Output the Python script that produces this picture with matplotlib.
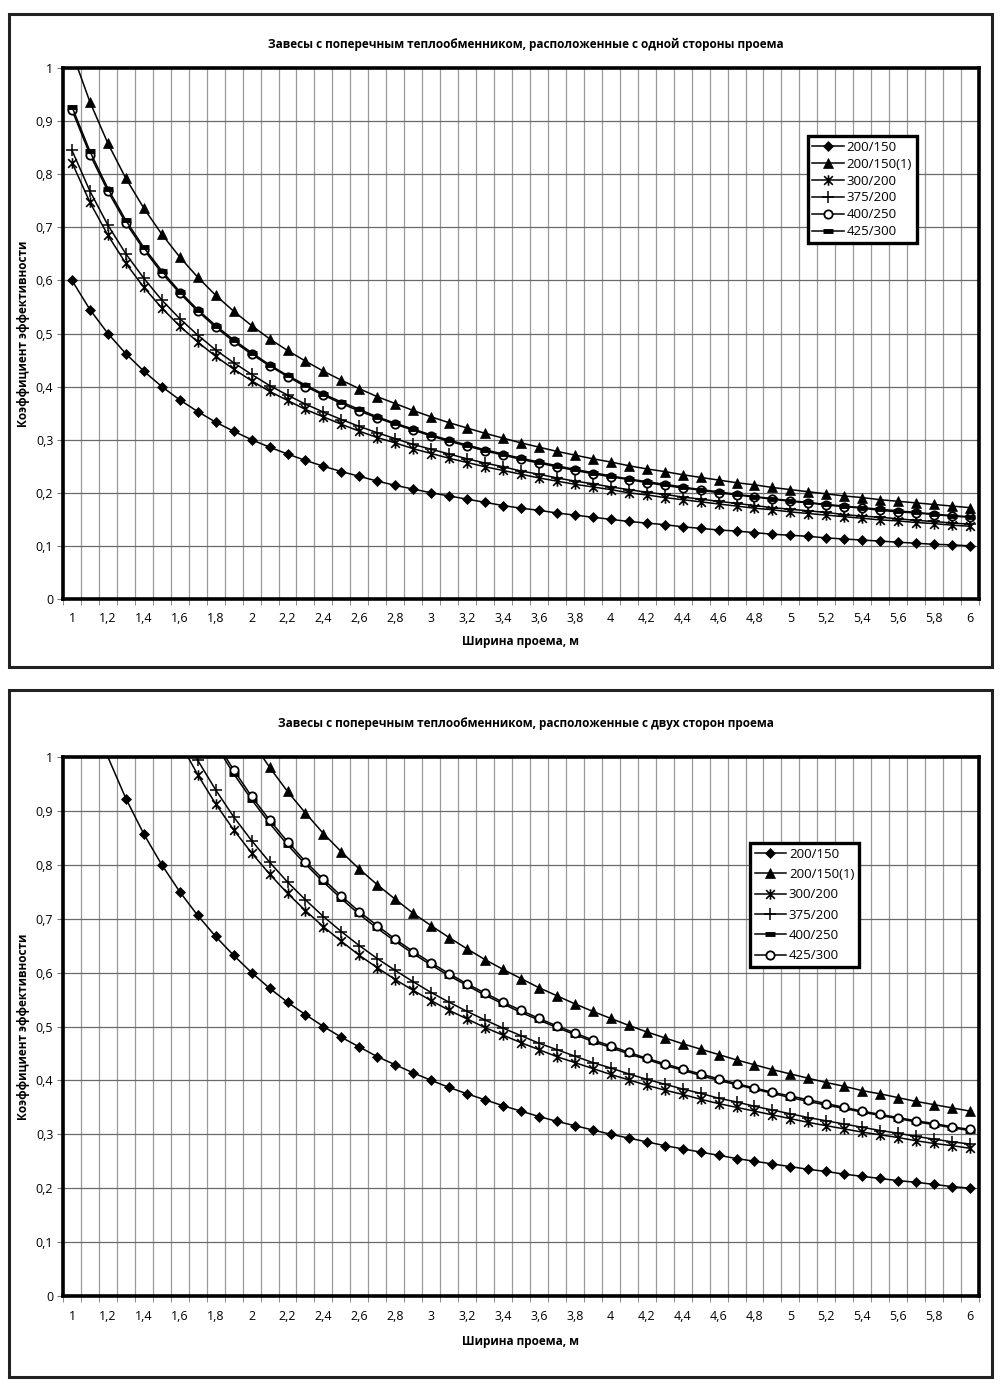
import numpy as np
import matplotlib
matplotlib.use("Agg")
import matplotlib.pyplot as plt
from matplotlib.path import Path
from matplotlib.patches import Rectangle

plt.rcParams["font.family"] = ["Open Sans", "DejaVu Sans"]

# --- dades ---
x_vals = [1.0, 1.1, 1.2, 1.3, 1.4, 1.5, 1.6, 1.7, 1.8, 1.9,
          2.0, 2.1, 2.2, 2.3, 2.4, 2.5, 2.6, 2.7, 2.8, 2.9,
          3.0, 3.1, 3.2, 3.3, 3.4, 3.5, 3.6, 3.7, 3.8, 3.9,
          4.0, 4.1, 4.2, 4.3, 4.4, 4.5, 4.6, 4.7, 4.8, 4.9,
          5.0, 5.1, 5.2, 5.3, 5.4, 5.5, 5.6, 5.7, 5.8, 5.9, 6.0]
labels = ["200/150", "200/150(1)", "300/200", "375/200", "400/250", "425/300"]

# one side of the opening
top_200_150 = [0.600, 0.545, 0.500, 0.462, 0.429, 0.400, 0.375, 0.353, 0.333, 0.316,
               0.300, 0.286, 0.273, 0.261, 0.250, 0.240, 0.231, 0.222, 0.214, 0.207,
               0.200, 0.194, 0.188, 0.182, 0.176, 0.171, 0.167, 0.162, 0.158, 0.154,
               0.150, 0.146, 0.143, 0.140, 0.136, 0.133, 0.130, 0.128, 0.125, 0.122,
               0.120, 0.118, 0.115, 0.113, 0.111, 0.109, 0.107, 0.105, 0.103, 0.102, 0.100]
top_200_150_1 = [1.030, 0.936, 0.858, 0.792, 0.736, 0.687, 0.644, 0.606, 0.572, 0.542,
                 0.515, 0.490, 0.468, 0.448, 0.429, 0.412, 0.396, 0.381, 0.368, 0.355,
                 0.343, 0.332, 0.322, 0.312, 0.303, 0.294, 0.286, 0.278, 0.271, 0.264,
                 0.258, 0.251, 0.245, 0.240, 0.234, 0.229, 0.224, 0.219, 0.215, 0.210,
                 0.206, 0.202, 0.198, 0.194, 0.191, 0.187, 0.184, 0.181, 0.178, 0.175, 0.172]
top_300_200 = [0.822, 0.747, 0.685, 0.632, 0.587, 0.548, 0.514, 0.484, 0.457, 0.433,
               0.411, 0.391, 0.374, 0.357, 0.343, 0.329, 0.316, 0.304, 0.294, 0.283,
               0.274, 0.265, 0.257, 0.249, 0.242, 0.235, 0.228, 0.222, 0.216, 0.211,
               0.206, 0.200, 0.196, 0.191, 0.187, 0.183, 0.179, 0.175, 0.171, 0.168,
               0.164, 0.161, 0.158, 0.155, 0.152, 0.149, 0.147, 0.144, 0.142, 0.139, 0.137]
top_375_200 = [0.845, 0.768, 0.704, 0.650, 0.604, 0.563, 0.528, 0.497, 0.469, 0.445,
               0.423, 0.402, 0.384, 0.367, 0.352, 0.338, 0.325, 0.313, 0.302, 0.291,
               0.282, 0.273, 0.264, 0.256, 0.249, 0.241, 0.235, 0.228, 0.222, 0.217,
               0.211, 0.206, 0.201, 0.197, 0.192, 0.188, 0.184, 0.180, 0.176, 0.172,
               0.169, 0.166, 0.163, 0.159, 0.156, 0.154, 0.151, 0.148, 0.146, 0.143, 0.141]
top_400_250 = [0.921, 0.837, 0.768, 0.708, 0.658, 0.614, 0.576, 0.542, 0.512, 0.485,
               0.461, 0.439, 0.419, 0.400, 0.384, 0.368, 0.354, 0.341, 0.329, 0.318,
               0.307, 0.297, 0.288, 0.279, 0.271, 0.263, 0.256, 0.249, 0.242, 0.236,
               0.230, 0.225, 0.219, 0.214, 0.209, 0.205, 0.200, 0.196, 0.192, 0.188,
               0.184, 0.181, 0.177, 0.174, 0.171, 0.167, 0.164, 0.162, 0.159, 0.156, 0.154]
top_425_300 = [0.927, 0.843, 0.773, 0.713, 0.662, 0.618, 0.579, 0.545, 0.515, 0.488,
               0.464, 0.441, 0.421, 0.403, 0.386, 0.371, 0.357, 0.343, 0.331, 0.320,
               0.309, 0.299, 0.290, 0.281, 0.273, 0.265, 0.258, 0.251, 0.244, 0.238,
               0.232, 0.226, 0.221, 0.216, 0.211, 0.206, 0.202, 0.197, 0.193, 0.189,
               0.185, 0.182, 0.178, 0.175, 0.172, 0.169, 0.166, 0.163, 0.160, 0.157, 0.155]

# two sides of the opening
bot_200_150 = [1.200, 1.091, 1.000, 0.923, 0.857, 0.800, 0.750, 0.706, 0.667, 0.632,
               0.600, 0.571, 0.545, 0.522, 0.500, 0.480, 0.462, 0.444, 0.429, 0.414,
               0.400, 0.387, 0.375, 0.364, 0.353, 0.343, 0.333, 0.324, 0.316, 0.308,
               0.300, 0.293, 0.286, 0.279, 0.273, 0.267, 0.261, 0.255, 0.250, 0.245,
               0.240, 0.235, 0.231, 0.226, 0.222, 0.218, 0.214, 0.211, 0.207, 0.203, 0.200]
bot_200_150_1 = [2.060, 1.873, 1.717, 1.585, 1.471, 1.373, 1.288, 1.212, 1.144, 1.084,
                 1.030, 0.981, 0.936, 0.896, 0.858, 0.824, 0.792, 0.763, 0.736, 0.710,
                 0.687, 0.665, 0.644, 0.624, 0.606, 0.589, 0.572, 0.557, 0.542, 0.528,
                 0.515, 0.502, 0.490, 0.479, 0.468, 0.458, 0.448, 0.438, 0.429, 0.420,
                 0.412, 0.404, 0.396, 0.389, 0.381, 0.375, 0.368, 0.361, 0.355, 0.349, 0.343]
bot_300_200 = [1.644, 1.495, 1.370, 1.265, 1.174, 1.096, 1.028, 0.967, 0.913, 0.865,
               0.822, 0.783, 0.747, 0.715, 0.685, 0.658, 0.632, 0.609, 0.587, 0.567,
               0.548, 0.530, 0.514, 0.498, 0.484, 0.470, 0.457, 0.444, 0.433, 0.422,
               0.411, 0.401, 0.391, 0.382, 0.374, 0.365, 0.357, 0.350, 0.343, 0.336,
               0.329, 0.322, 0.316, 0.310, 0.304, 0.299, 0.294, 0.288, 0.283, 0.279, 0.274]
bot_375_200 = [1.690, 1.536, 1.408, 1.300, 1.207, 1.127, 1.056, 0.994, 0.939, 0.889,
               0.845, 0.805, 0.768, 0.735, 0.704, 0.676, 0.650, 0.626, 0.604, 0.583,
               0.563, 0.545, 0.528, 0.512, 0.497, 0.483, 0.469, 0.457, 0.445, 0.433,
               0.423, 0.412, 0.402, 0.393, 0.384, 0.376, 0.367, 0.360, 0.352, 0.345,
               0.338, 0.331, 0.325, 0.319, 0.313, 0.307, 0.302, 0.296, 0.291, 0.286, 0.282]
bot_400_250 = [1.842, 1.675, 1.535, 1.417, 1.316, 1.228, 1.151, 1.084, 1.023, 0.969,
               0.921, 0.877, 0.837, 0.801, 0.768, 0.737, 0.708, 0.682, 0.658, 0.635,
               0.614, 0.594, 0.576, 0.558, 0.542, 0.526, 0.512, 0.498, 0.485, 0.472,
               0.461, 0.449, 0.439, 0.428, 0.419, 0.409, 0.400, 0.392, 0.384, 0.376,
               0.368, 0.361, 0.354, 0.348, 0.341, 0.335, 0.329, 0.323, 0.318, 0.312, 0.307]
bot_425_300 = [1.854, 1.685, 1.545, 1.426, 1.324, 1.236, 1.159, 1.091, 1.030, 0.976,
               0.927, 0.883, 0.843, 0.806, 0.773, 0.742, 0.713, 0.687, 0.662, 0.639,
               0.618, 0.598, 0.579, 0.562, 0.545, 0.530, 0.515, 0.501, 0.488, 0.475,
               0.464, 0.452, 0.441, 0.431, 0.421, 0.412, 0.403, 0.394, 0.386, 0.378,
               0.371, 0.364, 0.357, 0.350, 0.343, 0.337, 0.331, 0.325, 0.320, 0.314, 0.309]

x_tick_vals = [1.0, 1.2, 1.4, 1.6, 1.8, 2.0, 2.2, 2.4, 2.6, 2.8, 3.0, 3.2, 3.4,
               3.6, 3.8, 4.0, 4.2, 4.4, 4.6, 4.8, 5.0, 5.2, 5.4, 5.6, 5.8, 6.0]
x_tick_labels = ["1", "1,2", "1,4", "1,6", "1,8", "2", "2,2", "2,4", "2,6", "2,8",
                 "3", "3,2", "3,4", "3,6", "3,8", "4", "4,2", "4,4", "4,6", "4,8",
                 "5", "5,2", "5,4", "5,6", "5,8", "6"]
y_tick_vals = [0.0, 0.1, 0.2, 0.3, 0.4, 0.5, 0.6, 0.7, 0.8, 0.9, 1.0]
y_tick_labels = ["0", "0,1", "0,2", "0,3", "0,4", "0,5", "0,6", "0,7", "0,8", "0,9", "1"]

title_top = "Завесы с поперечным теплообменником, расположенные с одной стороны проема"
title_bot = "Завесы с поперечным теплообменником, расположенные с двух сторон проема"
xlabel = "Ширина проема, м"
ylabel = "Коэффициент эффективности"

# marcador asterisc estil Excel (x + barra vertical)
ASTER = Path([(-1, -1), (1, 1), (-1, 1), (1, -1), (0, -1.2), (0, 1.2)],
             [Path.MOVETO, Path.LINETO, Path.MOVETO, Path.LINETO, Path.MOVETO, Path.LINETO])

STY = {
    "diamond": dict(marker="D", ms=5, mfc="black", mec="black", mew=0.5),
    "tri": dict(marker="^", ms=6.5, mfc="black", mec="black", mew=0.5),
    "aster": dict(marker=ASTER, ms=7.5, mfc="none", mec="black", mew=1.2),
    "plus": dict(marker="+", ms=9, mec="black", mew=1.1),
    "circle": dict(marker="o", ms=6, mfc="white", mec="black", mew=1.3),
    "dash": dict(marker="_", ms=7, mec="black", mew=3.5),
}

W, H = 1000, 1384
fig = plt.figure(figsize=(W / 100, H / 100), dpi=100)


def px_box(x0, y0, x1, y1):
    return [x0 / W, 1 - y1 / H, (x1 - x0) / W, (y1 - y0) / H]


def draw_panel(box, axbox, title, series, styles, title_y, xt_y, xl_y,
               leg_anchor, leg_spacing):
    fig.patches.append(Rectangle((box[0], box[1]), box[2], box[3], transform=fig.transFigure,
                                 fill=False, lw=2.2, ec="#222222"))
    ax = fig.add_axes(axbox)
    x = np.array(x_vals)
    for lab, y, st in zip(labels, series, styles):
        y = np.array(y)
        ax.plot(x, y, "-", color="black", lw=1.1, label=lab,
                markevery=list(y < 1.0), **STY[st])
    ax.set_xlim(0.95, 6.05)
    ax.set_ylim(0, 1)
    # gridlines at category boundaries
    bounds = [0.95 + 0.1 * k for k in range(52)]
    ax.set_xticks(bounds, minor=True)
    ax.set_xticks(x_tick_vals)
    ax.set_xticklabels([])
    ax.grid(True, which="minor", axis="x", color="#9a9a9a", lw=0.9)
    ax.set_yticks(y_tick_vals)
    ax.set_yticklabels(y_tick_labels, fontsize=9)
    ax.grid(True, which="major", axis="y", color="#6a6a6a", lw=0.9)
    ax.tick_params(axis="x", which="major", length=0)
    ax.tick_params(axis="x", which="minor", length=4, color="#777777", direction="out")
    ax.tick_params(axis="y", length=4, color="#777777", pad=3)
    for s in ax.spines.values():
        s.set_linewidth(2.6)
        s.set_color("black")
    ax.set_axisbelow(True)
    # x tick labels at a fixed pixel row
    ax_h = axbox[3] * H
    ax_bottom_px = (1 - axbox[1]) * H
    ty = -(xt_y - ax_bottom_px) / ax_h
    for xv, tl in zip(x_tick_vals, x_tick_labels):
        ax.text(xv, ty, tl, transform=ax.get_xaxis_transform(), ha="center", va="center",
                fontsize=9)
    fig.text(axbox[0] + axbox[2] / 2 + 0.005, 1 - title_y / H, title,
             ha="center", va="center", fontsize=8.5, fontweight="bold")
    fig.text(axbox[0] + axbox[2] / 2, 1 - xl_y / H, xlabel,
             ha="center", va="center", fontsize=8.5, fontweight="bold")
    fig.text(24 / W, axbox[1] + axbox[3] / 2, ylabel, rotation=90,
             ha="center", va="center", fontsize=8.5, fontweight="bold")
    leg = ax.legend(loc="upper left", bbox_to_anchor=leg_anchor, fontsize=9.5,
                    frameon=True, fancybox=False, framealpha=1, edgecolor="black",
                    handlelength=2.4, handletextpad=0.2, borderpad=0.35,
                    labelspacing=leg_spacing, borderaxespad=0)
    leg.get_frame().set_linewidth(2.4)
    return ax


top_series = [top_200_150, top_200_150_1, top_300_200, top_375_200, top_400_250, top_425_300]
bot_series = [bot_200_150, bot_200_150_1, bot_300_200, bot_375_200, bot_400_250, bot_425_300]

draw_panel(px_box(9, 14, 992, 667), px_box(63, 68, 979, 599), title_top, top_series,
           ["diamond", "tri", "aster", "plus", "circle", "dash"],
           title_y=44, xt_y=618, xl_y=642, leg_anchor=(0.813, 0.872), leg_spacing=0.3)
draw_panel(px_box(9, 690, 992, 1377), px_box(63, 757, 979, 1296), title_bot, bot_series,
           ["diamond", "tri", "aster", "plus", "dash", "circle"],
           title_y=723, xt_y=1317, xl_y=1342, leg_anchor=(0.750, 0.840), leg_spacing=0.55)

fig.savefig("out.png", dpi=100)
